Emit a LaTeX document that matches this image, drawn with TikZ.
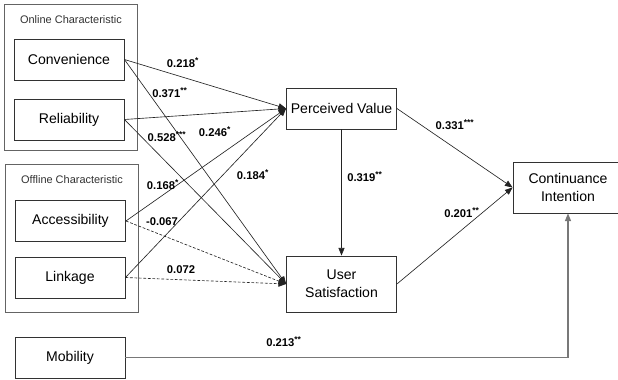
\documentclass[tikz,border=0pt]{standalone}
\usepackage{fontspec}
\setmainfont{Liberation Sans}
\usepackage{xcolor}
\usetikzlibrary{arrows.meta,positioning}
\definecolor{lineclr}{RGB}{35,35,35}
\definecolor{boxline}{RGB}{50,50,50}
\definecolor{grpline}{RGB}{100,100,100}
\definecolor{mobclr}{RGB}{120,120,120}
\tikzset{
  varbox/.style={rectangle, draw=boxline, line width=0.6pt, fill=white,
                 align=center, font=\fontsize{10}{13}\selectfont,
                 minimum width=2.75cm, minimum height=1.025cm, inner sep=0pt},
  grpbox/.style={rectangle, draw=grpline, line width=0.7pt, inner sep=0pt},
  grptitle/.style={font=\fontsize{7.8}{9}\selectfont, text=black!80, inner sep=0pt},
  coef/.style={font=\bfseries\fontsize{8}{9}\selectfont, inner sep=1pt},
  arr/.style={-{Triangle[length=1.9mm,width=1.5mm]}, color=lineclr, line width=0.45pt},
  arrdash/.style={arr, dashed, dash pattern=on 2pt off 1.2pt},
  mobline/.style={arr, draw=mobclr, line width=0.8pt},
}

\begin{document}
\begin{tikzpicture}[x=0.025cm, y=-0.025cm]
  \useasboundingbox (0,0) rectangle (618,380);
  \fill[white] (0,0) rectangle (618,380);
  \clip (0,0) rectangle (618,380);
  % groups
  \node[grpbox, minimum width=3.3cm, minimum height=3.625cm] (online) at (71,77.5) {};
  \node[grptitle] (onlinettl) at (71,20) {Online Characteristic};
  \node[grpbox, minimum width=3.3cm, minimum height=3.675cm] (offline) at (72,238.5) {};
  \node[grptitle] (offlinettl) at (72,180) {Offline Characteristic};
  % constructs
  \node[varbox] (conv) at (69,59.5) {Convenience};
  \node[varbox] (rel) at (69,119.5) {Reliability};
  \node[varbox] (acc) at (70.5,221) {Accessibility};
  \node[varbox] (link) at (70,277.5) {Linkage};
  \node[varbox] (mob) at (70,357.5) {Mobility};
  \node[varbox] (pv) at (341.5,108.5) {Perceived Value};
  \node[varbox, minimum height=1.4cm] (us) at (341.5,284) {User\\Satisfaction};
  \node[varbox, minimum height=1.275cm] (ci) at (568,187.5) {Continuance\\Intention};
  % paths
  \draw[arr] (conv.east) -- (pv.west);
  \draw[arr] (rel.east) -- (pv.west);
  \draw[arr] (acc.east) -- (pv.west);
  \draw[arr] (link.east) -- (pv.west);
  \draw[arr] (conv.east) -- (us.west);
  \draw[arr] (rel.east) -- (us.west);
  \draw[arrdash] (acc.east) -- (us.west);
  \draw[arrdash] (link.east) -- (us.west);
  \draw[arr] (pv.south) -- (us.north);
  \draw[arr] (pv.east) -- (ci.west);
  \draw[arr] (us.east) -- (ci.west);
  \draw[mobline] (mob.east) -| (ci.south);
  % coefficients
  \node[coef] (c1) at (183,63) {0.218\textsuperscript{*}};
  \node[coef] (c2) at (170,93) {0.371\textsuperscript{**}};
  \node[coef] (c3) at (167,137) {0.528\textsuperscript{***}};
  \node[coef] (c4) at (215,132) {0.246\textsuperscript{*}};
  \node[coef] (c5) at (163,185) {0.168\textsuperscript{*}};
  \node[coef] (c6) at (253,175) {0.184\textsuperscript{*}};
  \node[coef] (c7) at (162,222) {-0.067};
  \node[coef] (c8) at (181,270) {0.072};
  \node[coef] (c9) at (284,342) {0.213\textsuperscript{**}};
  \node[coef] (c10) at (365,177) {0.319\textsuperscript{**}};
  \node[coef] (c11) at (455,125) {0.331\textsuperscript{***}};
  \node[coef] (c12) at (462,213) {0.201\textsuperscript{**}};
\end{tikzpicture}
\end{document}
